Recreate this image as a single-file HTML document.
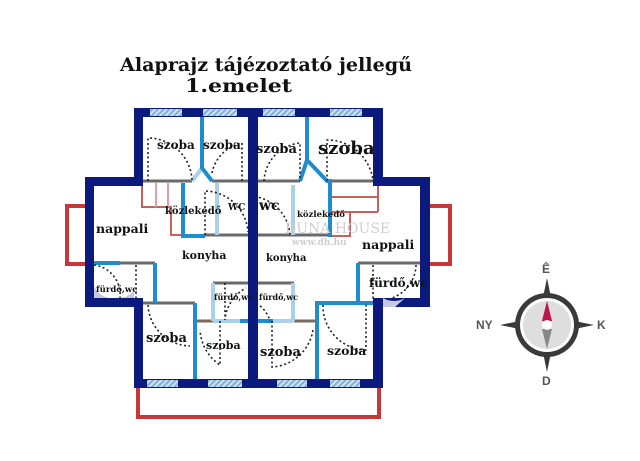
<!DOCTYPE html>
<html><head><meta charset="utf-8"><style>
html,body{margin:0;padding:0;background:#fff;width:640px;height:461px;overflow:hidden}
svg{display:block}
text{font-family:"DejaVu Serif","Liberation Serif",serif;font-weight:bold;fill:#111}
</style></head><body>
<svg width="640" height="461" viewBox="0 0 640 461" xmlns="http://www.w3.org/2000/svg">
<defs>
<pattern id="h" width="4" height="4" patternUnits="userSpaceOnUse" patternTransform="rotate(45)">
<rect width="4" height="4" fill="#cfe3f3"/><rect width="2" height="4" fill="#7fb0da"/></pattern>
</defs>
<text x="120" y="71" font-size="18.5" textLength="292" lengthAdjust="spacingAndGlyphs">Alaprajz tájézoztató jellegű</text>
<text x="185" y="92" font-size="18.5" textLength="107" lengthAdjust="spacingAndGlyphs">1.emelet</text>

<g fill="none" stroke="#c8383a" stroke-width="4">
<polyline points="85,206 67,206 67,264 85,264"/>
<polyline points="430,206 450,206 450,264 430,264"/>
<polyline points="138,388 138,417 379,417 379,388"/>
</g>

<g fill="none" stroke="#c86060" stroke-width="2">
<polyline points="142,181 142,207 172,207"/>
<line x1="156" y1="183" x2="156" y2="207" stroke="#e0a0a0"/>
<line x1="168" y1="183" x2="168" y2="207" stroke="#e0a0a0"/>
<polyline points="171,207 171,235 183,235"/>
<line x1="330" y1="197" x2="378" y2="197"/>
<line x1="330" y1="212" x2="378" y2="212"/>
<polyline points="378,183 378,212"/>
<polyline points="350,212 350,236 330,236"/>
</g>

<g stroke="#6a6a6a" stroke-width="3" fill="none">
<line x1="143" y1="181" x2="192" y2="181"/>
<line x1="212" y1="181" x2="248" y2="181"/>
<line x1="258" y1="181" x2="300" y2="181"/>
<line x1="327" y1="181" x2="373" y2="181"/>
<line x1="205" y1="235" x2="248" y2="235"/>
<line x1="258" y1="235" x2="330" y2="235"/>
<line x1="94" y1="263" x2="155" y2="263"/>
<line x1="143" y1="303" x2="195" y2="303"/>
<line x1="358" y1="263" x2="420" y2="263"/>
<line x1="213" y1="283" x2="294" y2="283"/>
<line x1="195" y1="321" x2="213" y2="321" stroke="#7a6a5a"/>
<line x1="294" y1="321" x2="317" y2="321" stroke="#7a6a5a"/>
</g>
<g stroke="#aad0ea" stroke-width="4" fill="none">
<line x1="217" y1="183" x2="217" y2="235"/>
<line x1="293" y1="185" x2="293" y2="235"/>
<polyline points="300,181 307,160"/>
<polyline points="192,181 202,168"/>
<line x1="213" y1="283" x2="213" y2="321"/>
<line x1="293" y1="283" x2="293" y2="321"/>
<line x1="213" y1="321" x2="240" y2="321"/>
<line x1="273" y1="321" x2="293" y2="321"/>
</g>
<g stroke="#1f8ccc" stroke-width="4" fill="none">
<polyline points="202,110 202,168 212,181"/>
<polyline points="307,110 307,160 327,181 330,181 330,237"/>
<polyline points="183,183 183,236 205,236"/>
<line x1="307" y1="160" x2="300" y2="181"/>
<polyline points="155,263 155,303"/>
<polyline points="195,303 195,380"/>
<polyline points="358,305 358,263"/>
<polyline points="317,385 317,303 375,303"/>
<line x1="240" y1="321" x2="273" y2="321"/>
<line x1="94" y1="263" x2="120" y2="263"/>
</g>

<g stroke="#222" stroke-width="1.6" fill="none" stroke-dasharray="2,2.5">
<path d="M148,181 L148,138 A44,44 0 0 1 192,181"/>
<path d="M242,181 L242,143 A38,38 0 0 0 212,173"/>
<path d="M264,181 A40,40 0 0 1 300,143 L300,181"/>
<path d="M327,181 L327,140 A46,46 0 0 1 373,181"/>
<path d="M205,235 L205,191 A44,44 0 0 1 248,232"/>
<path d="M250,196 A42,42 0 0 1 290,235"/>
<path d="M94,265 A30,30 0 0 1 120,298"/>
<path d="M136,265 L136,298"/>
<path d="M148,305 A43,43 0 0 0 190,346"/>
<path d="M220,321 L220,365 A45,45 0 0 1 200,330"/>
<path d="M225,283 L225,320 A40,40 0 0 1 246,288"/>
<path d="M248,300 A30,30 0 0 1 270,321"/>
<path d="M272,321 L272,367 A44,44 0 0 0 313,330"/>
<path d="M323,305 A44,44 0 0 0 366,350 L366,305"/>
<path d="M373,265 L373,300"/>
<path d="M416,265 A36,36 0 0 1 380,300"/>
</g>

<g fill="#0b1a7c">
<rect x="134" y="108" width="249" height="9"/>
<rect x="134" y="108" width="9" height="78"/>
<rect x="85" y="177" width="58" height="9"/>
<rect x="85" y="177" width="9" height="130"/>
<rect x="85" y="298" width="58" height="9"/>
<rect x="134" y="298" width="9" height="90"/>
<rect x="134" y="379" width="249" height="9"/>
<rect x="248" y="108" width="10" height="280"/>
<rect x="373" y="108" width="10" height="78"/>
<rect x="373" y="177" width="57" height="9"/>
<rect x="420" y="177" width="10" height="130"/>
<rect x="373" y="298" width="57" height="9"/>
<rect x="373" y="298" width="10" height="90"/>
</g>
<g fill="url(#h)">
<rect x="150" y="109" width="32" height="7"/>
<rect x="203" y="109" width="34" height="7"/>
<rect x="263" y="109" width="32" height="7"/>
<rect x="330" y="109" width="32" height="7"/>
<rect x="147" y="380" width="31" height="7"/>
<rect x="208" y="380" width="34" height="7"/>
<rect x="277" y="380" width="30" height="7"/>
<rect x="330" y="380" width="30" height="7"/>
</g>
<g fill="#c8c8e0">
<path d="M94,286 A20,20 0 0 0 110,298 L94,298 Z"/>
<path d="M120,298 A20,20 0 0 0 134,290 L134,298Z"/>
<path d="M383,298 A22,22 0 0 0 405,298 L395,307 L383,307Z"/>
</g>

<text x="285" y="233" font-size="14" style="fill:#cfcfcf;font-weight:normal">DUNA HOUSE</text>
<text x="292" y="245" font-size="9" style="fill:#cfcfcf">www.dh.hu</text>

<text x="157" y="149" font-size="12">szoba</text>
<text x="203" y="149" font-size="12">szoba</text>
<text x="256" y="153" font-size="13">szoba</text>
<text x="318" y="154" font-size="18">szoba</text>
<text x="165" y="214" font-size="10">közlekedő</text>
<text x="228" y="210" font-size="9">WC</text>
<text x="259" y="210" font-size="14">wc</text>
<text x="297" y="217" font-size="8.5">közlekedő</text>
<text x="96" y="233" font-size="12.5">nappali</text>
<text x="182" y="259" font-size="11">konyha</text>
<text x="266" y="261" font-size="10">konyha</text>
<text x="362" y="249" font-size="12.5">nappali</text>
<text x="96" y="292" font-size="8.5">fürdő,wc</text>
<text x="214" y="300" font-size="8">fürdő,wc</text>
<text x="259" y="300" font-size="8">fürdő,wc</text>
<text x="369" y="287" font-size="12">fürdő,wc</text>
<text x="146" y="342" font-size="13">szoba</text>
<text x="206" y="349" font-size="11">szoba</text>
<text x="260" y="356" font-size="13">szoba</text>
<text x="327" y="355" font-size="12.5">szoba</text>

<g transform="translate(547,325)">
<polygon points="0,-47 8,-8 47,0 8,8 0,47 -8,8 -47,0 -8,-8" fill="#3a3a3a"/>
<circle r="32" fill="#3a3a3a"/>
<circle r="27" fill="#fff"/>
<circle r="24" fill="#dedede"/>
<polygon points="0,-24 -5,-4 5,-4" fill="#c0124e"/>
<polygon points="0,24 -5,4 5,4" fill="#888"/>
<circle r="5" fill="#fff"/>
</g>
<text x="542" y="273" font-size="12" style="font-family:'Liberation Sans',sans-serif;fill:#555">Ê</text>
<text x="476" y="329" font-size="12" style="font-family:'Liberation Sans',sans-serif;fill:#555">NY</text>
<text x="597" y="329" font-size="12" style="font-family:'Liberation Sans',sans-serif;fill:#555">K</text>
<text x="542" y="385" font-size="12" style="font-family:'Liberation Sans',sans-serif;fill:#555">D</text>
</svg>
</body></html>
